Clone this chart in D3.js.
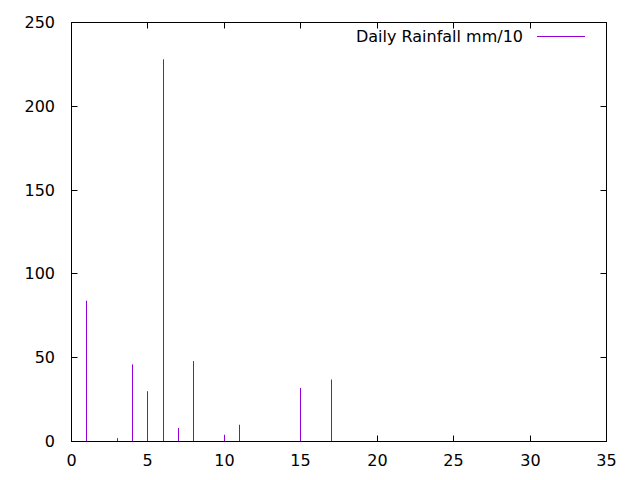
<!DOCTYPE html>
<html>
<head>
<meta charset="utf-8">
<script src="https://cdn.jsdelivr.net/npm/d3@7"></script>
<style>
  body { margin: 0; background: #fff; }
  text { font-family: "DejaVu Sans", sans-serif; font-size: 16px; fill: #000; }
</style>
</head>
<body>
<svg></svg>
<script>
// day of month and rainfall (mm/10)
var days = [1, 3, 4, 5, 6, 7, 8, 10, 11, 15, 17];
var rain = [84, 2, 46, 30, 228, 8, 48, 4, 10, 32, 37];
var xTicks = [0, 5, 10, 15, 20, 25, 30, 35];
var yTicks = [0, 50, 100, 150, 200, 250];
var seriesName = 'Daily Rainfall mm/10';

var width = 640,
    height = 480;
var padL = 71.5, padR = 606.5, padT = 22.5, padB = 441.5;
var purple = '#9400d3';

var svg = d3.select('svg')
    .attr('width', width)
    .attr('height', height);

var x = d3.scaleLinear().domain([0, 35]).range([padL, padR]);
var y = d3.scaleLinear().domain([0, 250]).range([padB, padT]);

function snap(v){ return Math.round(v - 0.5) + 0.5; }

// ticks and labels first, the data goes over them
var tick = 6;
var axes = svg.append('g').attr('stroke', '#000').attr('stroke-width', 1);
xTicks.forEach(function(t){
    var px = snap(x(t));
    axes.append('line').attr('x1', px).attr('x2', px).attr('y1', padB).attr('y2', padB - tick);
    axes.append('line').attr('x1', px).attr('x2', px).attr('y1', padT).attr('y2', padT + tick);
    svg.append('text').attr('x', px).attr('y', 465.5)
        .attr('text-anchor', 'middle').text(t);
});
yTicks.forEach(function(t){
    var py = snap(y(t));
    axes.append('line').attr('x1', padL).attr('x2', padL + tick).attr('y1', py).attr('y2', py);
    axes.append('line').attr('x1', padR).attr('x2', padR - tick).attr('y1', py).attr('y2', py);
    svg.append('text').attr('x', 55).attr('y', py + 5.5)
        .attr('text-anchor', 'end').text(t);
});

// impulses
svg.append('g').selectAll('line')
    .data(days)
    .enter().append('line')
    .attr('x1', function(d){ return snap(x(d)); })
    .attr('x2', function(d){ return snap(x(d)); })
    .attr('y1', y(0))
    .attr('y2', function(d, i){ return y(rain[i]); })
    .attr('stroke', purple)
    .attr('stroke-width', 1);

// frame
svg.append('rect')
    .attr('x', padL).attr('y', padT)
    .attr('width', padR - padL).attr('height', padB - padT)
    .attr('fill', 'none').attr('stroke', '#000').attr('stroke-width', 1);

// key
svg.append('text').attr('x', 523).attr('y', 42)
    .attr('text-anchor', 'end').text(seriesName);
svg.append('line')
    .attr('x1', 537).attr('x2', 585).attr('y1', 36.5).attr('y2', 36.5)
    .attr('stroke', purple).attr('stroke-width', 1);
</script>
</body>
</html>
